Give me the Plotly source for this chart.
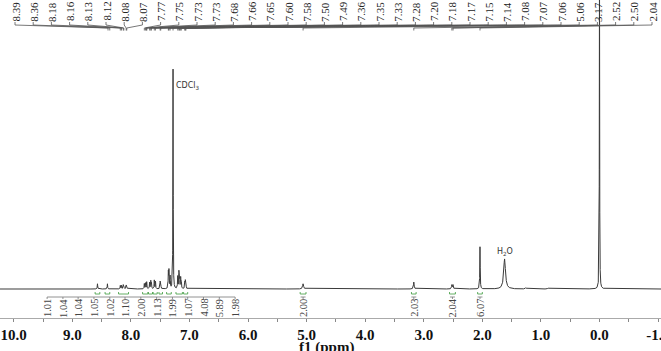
import numpy as np
import plotly.graph_objects as go

# ---------------- data ----------------
# peak list: chemical shift (ppm), relative height, half width (ppm)
peak_ppm = [8.57, 8.40, 8.18, 8.16, 8.13, 8.12, 8.08, 8.07,
            7.77, 7.75, 7.73, 7.68, 7.66, 7.65, 7.60, 7.58, 7.50, 7.49,
            7.36, 7.35, 7.33, 7.28, 7.20, 7.18, 7.17, 7.15, 7.14,
            7.08, 7.07, 7.06, 5.06, 3.17, 2.52, 2.50, 2.04, 1.62,
            1.26, 0.88, 0.00]
peak_height = [0.018, 0.018, 0.012, 0.012, 0.013, 0.013, 0.012, 0.012,
               0.018, 0.020, 0.024, 0.022, 0.026, 0.022, 0.030, 0.026, 0.024, 0.022,
               0.055, 0.060, 0.042, 0.760, 0.042, 0.055, 0.048, 0.036, 0.028,
               0.022, 0.026, 0.020, 0.018, 0.024, 0.014, 0.014, 0.146, 0.104,
               0.004, 0.003, 1.150]
peak_width = [0.004, 0.004, 0.004, 0.004, 0.004, 0.004, 0.004, 0.004,
              0.004, 0.004, 0.004, 0.004, 0.004, 0.004, 0.004, 0.004, 0.004, 0.004,
              0.004, 0.004, 0.004, 0.003, 0.004, 0.004, 0.004, 0.004, 0.004,
              0.004, 0.004, 0.004, 0.010, 0.007, 0.006, 0.006, 0.004, 0.018,
              0.010, 0.010, 0.003]

# peak-pick labels (top)
top_labels = ["8.39", "8.36", "8.18", "8.16", "8.13", "8.12", "8.08", "8.07",
              "7.77", "7.75", "7.73", "7.73", "7.68", "7.66", "7.65", "7.60",
              "7.58", "7.50", "7.49", "7.36", "7.35", "7.33", "7.28", "7.20",
              "7.18", "7.17", "7.15", "7.14", "7.08", "7.07", "7.06", "5.06",
              "3.17", "2.52", "2.50", "2.04"]

# integrals: value, label position (ppm), integrated region (ppm)
integ_values = ["1.01", "1.04", "1.04", "1.05", "1.02", "1.10", "2.00",
                "1.13", "1.99", "1.07", "4.08", "5.89", "1.98",
                "2.00", "2.03", "2.04", "6.07"]
integ_label_ppm = [9.43, 9.16, 8.90, 8.63, 8.36, 8.10, 7.83,
                   7.56, 7.29, 7.03, 6.76, 6.49, 6.22,
                   5.06, 3.17, 2.51, 2.04]
integ_regions = [(8.61, 8.53), (8.44, 8.36), (8.21, 8.04), (7.80, 7.71),
                 (7.70, 7.63), (7.62, 7.55), (7.52, 7.46), (7.39, 7.31),
                 (7.23, 7.12), (7.10, 7.03), (5.11, 5.01), (3.21, 3.13),
                 (2.56, 2.46), (2.08, 2.00)]

x_ticks = [10.0, 9.0, 8.0, 7.0, 6.0, 5.0, 4.0, 3.0, 2.0, 1.0, 0.0, -1.0]

# ---------------- geometry helpers ----------------
W, H = 661, 351
PLOT_H = 318                   # plot area height in px (top margin 0)
Y1 = 1.0
Y0 = Y1 - PLOT_H / 289.0       # baseline lands at 289 px from top
X_LEFT, X_RIGHT = 10.234, -1.050
PX_PER_PPM = W / (X_LEFT - X_RIGHT)


def ydat(py):
    return Y1 - py / PLOT_H * (Y1 - Y0)


def ppm_of_px(px):
    return X_LEFT - px / PX_PER_PPM


# ---------------- spectrum ----------------
x = np.arange(X_RIGHT, X_LEFT, 0.0005)
y = np.zeros_like(x)
for c, h, g in zip(peak_ppm, peak_height, peak_width):
    y += h * g * g / ((x - c) ** 2 + g * g)

fig = go.Figure()
fig.add_trace(go.Scatter(x=x, y=y, mode="lines",
                         line=dict(color="#3a3a3a", width=1),
                         hoverinfo="skip", showlegend=False))

# ---------------- peak label connectors ----------------
n = len(top_labels)
label_px = [15 + i * (652 - 15) / (n - 1) for i in range(n)]
cx, cy = [], []
for lab, px in zip(top_labels, label_px):
    lp = ppm_of_px(px)
    pp = float(lab)
    cx += [lp, lp, pp, pp, None]
    cy += [ydat(22), ydat(25), ydat(28), ydat(30.5), None]
fig.add_trace(go.Scatter(x=cx, y=cy, mode="lines",
                         line=dict(color="#555555", width=0.8),
                         hoverinfo="skip", showlegend=False))

annotations = []
for lab, px in zip(top_labels, label_px):
    annotations.append(dict(x=ppm_of_px(px), y=ydat(11.5), xref="x", yref="y",
                            text=lab, showarrow=False, textangle=-90,
                            xanchor="center", yanchor="middle",
                            font=dict(family="Liberation Serif", size=11,
                                      color="#222222")))

# ---------------- integrals ----------------
gx, gy = [], []
for a, b in integ_regions:
    gx += [a, a, b, b, None]
    gy += [ydat(292), ydat(294), ydat(294), ydat(292), None]
fig.add_trace(go.Scatter(x=gx, y=gy, mode="lines",
                         line=dict(color="#3c9a3c", width=0.8),
                         hoverinfo="skip", showlegend=False))

bx = [integ_label_ppm[0], integ_label_ppm[12], None]
by = [ydat(297), ydat(297), None]
for p in integ_label_ppm:
    bx += [p, p, None]
    by += [ydat(297), ydat(299), None]
for p in integ_label_ppm[13:]:
    d = 2.5 / PX_PER_PPM
    bx += [p - d, p + d, None]
    by += [ydat(297), ydat(297), None]
fig.add_trace(go.Scatter(x=bx, y=by, mode="lines",
                         line=dict(color="#777777", width=0.8),
                         hoverinfo="skip", showlegend=False))

for v, p in zip(integ_values, integ_label_ppm):
    annotations.append(dict(x=p, y=ydat(308), xref="x", yref="y",
                            text=v, showarrow=False, textangle=-90,
                            xanchor="center", yanchor="middle",
                            font=dict(family="Liberation Serif", size=10.5,
                                      color="#444444")))

# solvent labels
annotations.append(dict(x=7.26, y=ydat(86), xref="x", yref="y",
                        text="CDCl<sub>3</sub>", showarrow=False,
                        xanchor="left", yanchor="middle",
                        font=dict(family="DejaVu Sans", size=8, color="#333333")))
annotations.append(dict(x=1.62, y=ydat(252), xref="x", yref="y",
                        text="H<sub>2</sub>O", showarrow=False,
                        xanchor="center", yanchor="middle",
                        font=dict(family="DejaVu Sans", size=8, color="#333333")))

# axis title
annotations.append(dict(x=326 / W, y=-(347 - PLOT_H) / PLOT_H, xref="paper",
                        yref="paper", text="f1 (ppm)", showarrow=False,
                        xanchor="center", yanchor="middle",
                        font=dict(family="Liberation Serif", size=15,
                                  color="#111111", weight="bold")))

fig.update_layout(
    width=W, height=H,
    margin=dict(l=0, r=0, t=0, b=H - PLOT_H, autoexpand=False),
    paper_bgcolor="white", plot_bgcolor="white",
    annotations=annotations,
    xaxis=dict(range=[X_LEFT, X_RIGHT], tickvals=x_ticks,
               ticktext=[f"{v:.1f}" for v in x_ticks],
               showgrid=False, zeroline=False, showline=True,
               linecolor="#aaaaaa", linewidth=1,
               ticks="outside", ticklen=3, tickcolor="#888888",
               ticklabeloverflow="allow",
               minor=dict(dtick=0.5, tick0=0, ticks="outside", ticklen=3,
                          tickcolor="#888888", showgrid=False),
               tickfont=dict(family="Liberation Serif", size=15,
                             color="#111111", weight="bold"),
               automargin=False, fixedrange=True),
    yaxis=dict(range=[Y0, Y1], visible=False, fixedrange=True),
    showlegend=False,
)

fig.write_html("out.html",
               config={"displayModeBar": False},
               post_script="document.body.style.margin='0';"
                           "document.body.style.padding='0';")
